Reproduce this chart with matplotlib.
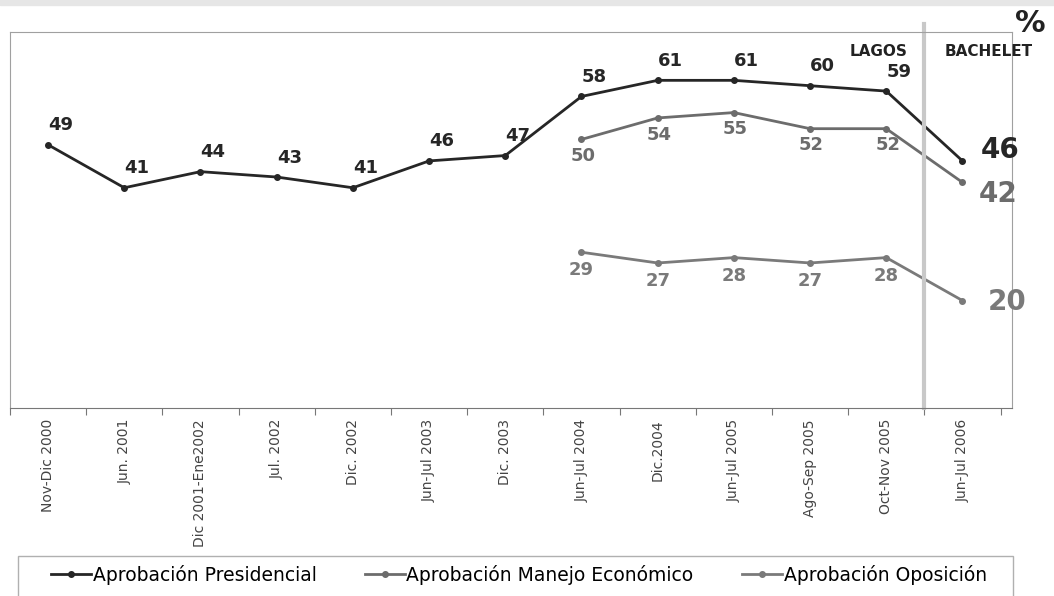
import numpy as np
import matplotlib.pyplot as plt

periodos = ['Nov-Dic 2000', 'Jun. 2001', 'Dic 2001-Ene2002', 'Jul. 2002', 'Dic. 2002',
            'Jun-Jul 2003', 'Dic. 2003', 'Jun-Jul 2004', 'Dic.2004', 'Jun-Jul 2005',
            'Ago-Sep 2005', 'Oct-Nov 2005', 'Jun-Jul 2006']
presidencial = [49, 41, 44, 43, 41, 46, 47, 58, 61, 61, 60, 59, 46]
economico = [np.nan] * 7 + [50, 54, 55, 52, 52, 42]
oposicion = [np.nan] * 7 + [29, 27, 28, 27, 28, 20]

c_pres = '#262626'
c_eco = '#6c6c6c'
c_opo = '#7a7a7a'

fig = plt.figure(figsize=(10.54, 5.96), dpi=100)
ax = fig.add_axes([10 / 1054, 188 / 596, 1002 / 1054, 376 / 596])

x = np.arange(len(periodos))
ax.plot(x, presidencial, color=c_pres, lw=2, marker='o', ms=4, label='Aprobación Presidencial')
ax.plot(x, economico, color=c_eco, lw=2, marker='o', ms=4, label='Aprobación Manejo Económico')
ax.plot(x, oposicion, color=c_opo, lw=2, marker='o', ms=4, label='Aprobación Oposición')

ax.set_xlim(-0.5, len(periodos) - 0.5 + 0.15)
ax.set_ylim(0, 70)

# etiquetas de valores
for i in range(len(periodos) - 1):
    ax.annotate(str(presidencial[i]), (x[i], presidencial[i]), xytext=(9, 14),
                textcoords='offset points', ha='center', va='center',
                fontsize=13, fontweight='bold', color=c_pres)
    if not np.isnan(economico[i]):
        ax.annotate(str(int(economico[i])), (x[i], economico[i]), xytext=(1, -12),
                    textcoords='offset points', ha='center', va='center',
                    fontsize=13, fontweight='bold', color=c_eco)
        ax.annotate(str(int(oposicion[i])), (x[i], oposicion[i]), xytext=(0, -13),
                    textcoords='offset points', ha='center', va='center',
                    fontsize=13, fontweight='bold', color=c_opo)

last = len(periodos) - 1
for serie, col, dx, dy in [(presidencial, c_pres, 27, 8), (economico, c_eco, 26, -8), (oposicion, c_opo, 32, -1)]:
    ax.annotate(str(int(serie[last])), (x[last], serie[last]), xytext=(dx, dy),
                textcoords='offset points', ha='center', va='center',
                fontsize=20, fontweight='bold', color=col)

# separador Lagos / Bachelet
ax.axvline(last - 0.5, ymin=0, ymax=1.02, color='#c8c8c8', lw=3, clip_on=False)
ax.text(10.9, 66.3, 'LAGOS', ha='center', va='center', fontsize=11, fontweight='bold', color='#222222')
ax.text(12.34, 66.3, 'BACHELET', ha='center', va='center', fontsize=11, fontweight='bold', color='#222222')
fig.text(1030 / 1054, 1 - 24 / 596, '%', ha='center', va='center', fontsize=22, fontweight='bold', color='#222222')

for s in ax.spines.values():
    s.set_color('#a0a0a0')
ax.spines['bottom'].set_color('#777777')
ax.set_yticks([])
ax.set_xticks(np.arange(-0.5, len(periodos), 1))
ax.set_xticklabels([])
ax.set_xticks(x, minor=True)
ax.set_xticklabels(periodos, minor=True, rotation=90, fontsize=10, color='#444444', va='top',
                   family=['Liberation Sans Narrow', 'DejaVu Sans'])
ax.tick_params(axis='x', which='major', length=5, direction='out', color='#777777')
ax.tick_params(axis='x', which='minor', length=0, pad=8)

leg = fig.legend(loc='center', bbox_to_anchor=(519 / 1054, 1 - 575 / 596), ncol=3,
                 frameon=False, fontsize=13.5, handlelength=2.1, handletextpad=0.1,
                 columnspacing=2.6, borderpad=0)
fig.patches.append(plt.Rectangle((18 / 1054, -0.01), 995 / 1054, 1 - 556 / 596 + 0.01,
                                 transform=fig.transFigure, fill=False,
                                 edgecolor='#b0b0b0', lw=1))

# franja gris superior
fig.patches.append(plt.Rectangle((0, 1 - 5 / 596), 1, 5 / 596, transform=fig.transFigure,
                                 color='#e6e6e6', zorder=0))

fig.savefig('out.png', dpi=100)
